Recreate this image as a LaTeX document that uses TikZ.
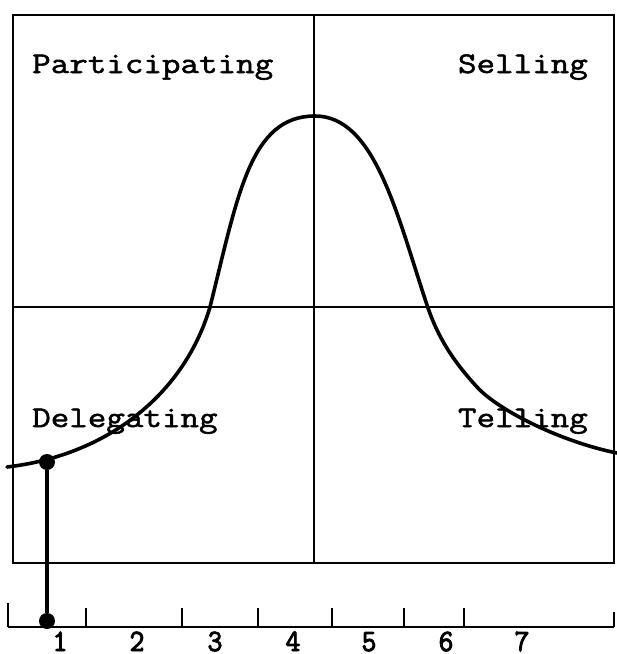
\documentclass[tikz,border=0pt]{standalone}
\usepackage{fontspec}
\newfontfamily\tw{Latin Modern Mono}[FakeStretch=1.2,FakeBold=1.8]
\newfontfamily\twb{Latin Modern Mono}[FakeStretch=0.93,FakeBold=3]
\begin{document}
\begin{tikzpicture}[x=1pt,y=-1pt,
  frame/.style={line width=2.2pt},
  curve/.style={line width=3.6pt,line cap=round},
  dot/.style={circle,fill=black,inner sep=0pt,minimum size=16pt},
  quad/.style={font=\tw\fontsize{30}{30}\selectfont,inner sep=0pt},
  num/.style={font=\twb\fontsize{31}{31}\selectfont,inner sep=0pt,anchor=base},
  tick/.style={line width=2.2pt}]
\useasboundingbox (0,0) rectangle (617,654);
% frame and quadrant lines
\draw[frame] (13,15) rectangle (614,563);
\draw[frame] (314,15) -- (314,563);
\draw[frame] (13,307) -- (614,307);
% labels
\node[quad,anchor=base west] (part) at (32,73) {Participating};
\node[quad,anchor=base east] (sell) at (588,73) {Selling};
\node[quad,anchor=base west] (dele) at (32,427) {Delegating};
\node[quad,anchor=base east] (tell) at (588,427) {Telling};
% bell curve
\draw[curve] (7,467) .. controls (110,455) and (185,392) .. (210,307)
  .. controls (238,195) and (250,116) .. (315,116)
  .. controls (375,116) and (397,215) .. (427,305)
  .. controls (439,341) and (456,364) .. (477,387)
  .. controls (499,411) and (562,442) .. (617,453);
% point on curve and its projection
\node[dot] (top) at (47,462) {};
\node[dot] (bot) at (47,621) {};
\draw[line width=3.2pt] (top) -- (bot);
% axis
\coordinate (axl) at (8,627);
\coordinate (axr) at (614,627);
\draw[tick] (axl) -- (axr);
\draw[tick] (8,603) -- (axl);
\draw[tick] (614,612) -- (axr);
\foreach \x in {86,182,258,332,404,464}{\draw[tick] (\x,608) -- (\x,627);}
% numbers
\node[num] (n1) at (60,651) {1};
\node[num] (n2) at (137,651) {2};
\node[num] (n3) at (215,651) {3};
\node[num] (n4) at (293,651) {4};
\node[num] (n5) at (369,651) {5};
\node[num] (n6) at (446,651) {6};
\node[num] (n7) at (522,651) {7};
\end{tikzpicture}
\end{document}
